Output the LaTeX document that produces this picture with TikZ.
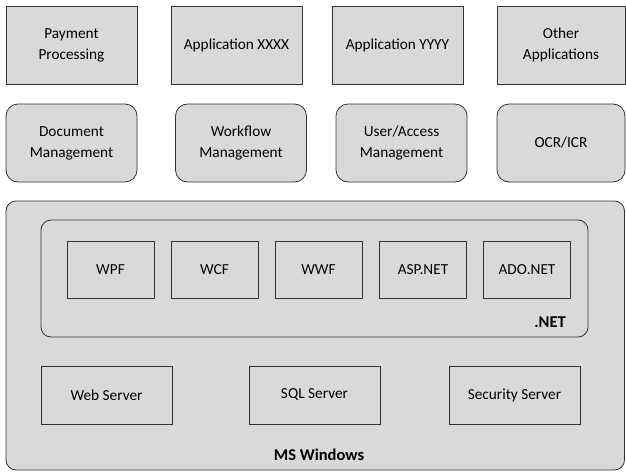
\documentclass[tikz,border=0pt]{standalone}
\usepackage{fontspec}
\setmainfont{Carlito}
\begin{document}
\begin{tikzpicture}[x=1pt, y=-1pt, line width=0.8pt, font=\fontsize{15.3}{21}\selectfont,
      app/.style = {draw=black!80, fill=black!15, minimum width=131pt, minimum height=78pt, align=center, inner sep=0pt},
      svc/.style = {app, rounded corners=12pt},
      part/.style = {draw=black!80, fill=black!15, minimum width=87pt, minimum height=57pt, inner sep=0pt},
      server/.style = {part, minimum width=131pt, minimum height=58pt},
      label/.style = {font=\fontsize{16.5}{20}\selectfont\bfseries}]
      \useasboundingbox (0,0) rectangle (626,471);

      % layers
      \draw[draw=black!80, fill=black!15, rounded corners=10pt] (6,201) rectangle (624.5,470) coordinate (win);
      \draw[draw=black!80, fill=black!15, rounded corners=10pt] (41,220) rectangle (588,337);

      \node[app] (pay) at (71.5,45) {Payment\\Processing};
      \node[app] (appx) at (236.5,45) {Application XXXX};
      \node[app] (appy) at (397.5,45) {Application YYYY};
      \node[app, minimum width=128pt] (other) at (561,45) {Other\\Applications};

      \node[svc] (doc) at (71.5,143) {Document\\Management};
      \node[svc] (flow) at (241,143) {Workflow\\Management};
      \node[svc] (user) at (401.5,143) {User/Access\\Management};
      \node[svc, minimum width=128pt] (ocr) at (561,143) {OCR/ICR};

      \node[part] (wpf) at (110.5,269.5) {WPF};
      \node[part] (wcf) at (214.5,269.5) {WCF};
      \node[part] (wwf) at (318.5,269.5) {WWF};
      \node[part] (asp) at (423,269.5) {ASP.NET};
      \node[part] (ado) at (527,269.5) {ADO.NET};
      \node[label] (net) at (550,322) {.NET};

      \node[server] (web) at (106.5,395) {Web Server};
      \node[server] (sql) at (314.5,395) {SQL Server};
      \node[server] (sec) at (514.5,395) {Security Server};
      \node[label] (ms) at (319,455) {MS Windows};
\end{tikzpicture}
\end{document}
